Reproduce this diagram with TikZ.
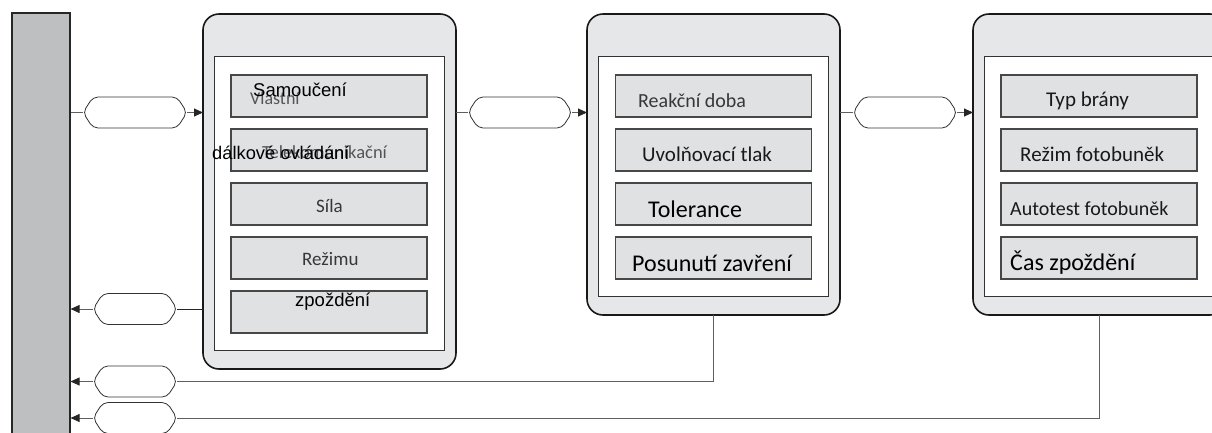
\documentclass[tikz,border=0pt]{standalone}
\usepackage{fontspec}
\setmainfont{Carlito}
\newfontfamily\arialfont{Liberation Sans}
\usetikzlibrary{arrows.meta}

\definecolor{bargray}{RGB}{190,191,193}
\definecolor{panelgray}{RGB}{230,231,232}
\definecolor{boxgray}{RGB}{224,225,227}
\definecolor{linegray}{RGB}{95,95,95}
\definecolor{textgray}{RGB}{55,55,55}
\definecolor{lightgray}{RGB}{85,85,85}

\begin{document}
\begin{tikzpicture}[x=1pt, y=-1pt,
  panel/.style={draw=black!90, line width=1.6pt, fill=panelgray, rounded corners=16pt,
    minimum width=253pt, inner sep=0pt, outer sep=0pt},
  inner/.style={draw=black!80, line width=0.9pt, fill=white, minimum width=230pt, inner sep=0pt},
  item/.style={draw=black!72, line width=1.2pt, fill=boxgray, minimum width=196pt,
    minimum height=42pt, inner sep=0pt},
  pill/.style={minimum width=104pt, minimum height=31pt, inner sep=0pt, outer sep=0pt},
  rpill/.style={pill, minimum width=84pt},
  pillline/.style={draw=black!80, line width=0.8pt, fill=white, rounded corners=5pt},
  link/.style={linegray, line width=0.9pt},
  arr/.style={-{Triangle[length=9pt,width=8pt,color=black!85]}},
  lbl/.style={anchor=base west, inner sep=0pt, text=textgray},
  sz/.style={font=\fontsize{#1}{#1}\selectfont},
]
\useasboundingbox (0,0) rectangle (1212,432);

% Bar on the left
\node[draw=black!85, line width=1.1pt, fill=bargray, minimum width=58pt, minimum height=432pt,
  inner sep=0pt] (bar) at (41,229) {};

% Panels
\node[panel, minimum height=355pt] (p1) at (329.5,191.5) {};
\node[panel, minimum height=301pt] (p2) at (713.5,164.5) {};
\node[panel, minimum height=301pt] (p3) at (1099.5,164.5) {};

\node[inner, minimum height=294pt] (in1) at (329,203) {};
\node[inner, minimum height=240pt] (in2) at (713,176) {};
\node[inner, minimum height=240pt] (in3) at (1099,176) {};

% Item boxes
\foreach \i in {1,...,5}
  \node[item] (a\i) at (329,42+54*\i) {};
\foreach \i in {1,...,4} {
  \node[item] (b\i) at (713.5,42+54*\i) {};
  \node[item] (c\i) at (1099,42+54*\i) {};
}

% Texts, panel 1
\node[lbl, sz=18, text=lightgray] (t1b) at (250,104) {Vlastní};
\node[lbl, text=black, font=\arialfont\fontsize{18.5}{18.5}\selectfont] (t1a) at (253,96) {Samoučení};
\node[lbl, sz=18.5, text=lightgray] (t2b) at (262,158) {Telekomunikační};
\node[lbl, text=black, font=\arialfont\fontsize{18.3}{18.3}\selectfont] (t2a) at (212,159) {dálkové ovládání};
\node[lbl, sz=19] (t3) at (316,212) {Síla};
\node[lbl, sz=19] (t4) at (302,265) {Režimu};
\node[lbl, text=black, font=\arialfont\fontsize{18.5}{18.5}\selectfont] (t5) at (295,306) {zpoždění};

% Texts, panel 2
\node[lbl, sz=20] (u1) at (638,107) {Reakční doba};
\node[lbl, sz=21, text=black!90] (u2) at (642,161) {Uvolňovací tlak};
\node[lbl, sz=24, text=black] (u3) at (648,217) {Tolerance};
\node[lbl, sz=24, text=black] (u4) at (632,271) {Posunutí zavření};

% Texts, panel 3
\node[lbl, sz=21, text=black!90] (v1) at (1046,106) {Typ brány};
\node[lbl, sz=21, text=black!90] (v2) at (1020,161) {Režim fotobuněk};
\node[lbl, sz=20, text=black!90] (v3) at (1010,215) {Autotest fotobuněk};
\node[lbl, sz=24, text=black] (v4) at (1010,270) {Čas zpoždění};

% Pills
\node[pill] (pa) at (135,112.5) {};
\node[pill] (pb) at (520,112.5) {};
\node[pill] (pc) at (905,112.5) {};
\node[rpill] (r1) at (135,309) {};
\node[rpill] (r2) at (135,381.5) {};
\node[rpill] (r3) at (135,418) {};
\foreach \p in {pa,pb,pc,r1,r2,r3}
  \draw[pillline] (\p.west) -- ([xshift=10pt]\p.north west) -- ([xshift=-10pt]\p.north east)
    -- (\p.east) -- ([xshift=-10pt]\p.south east) -- ([xshift=10pt]\p.south west) -- cycle;

% Forward links
\draw[link] (bar.east |- pa.west) -- (pa.west);
\draw[link, arr] (pa.east) -- (p1.west |- pa.east);
\draw[link] (p1.east |- pb.west) -- (pb.west);
\draw[link, arr] (pb.east) -- (p2.west |- pb.east);
\draw[link] (p2.east |- pc.west) -- (pc.west);
\draw[link, arr] (pc.east) -- (p3.west |- pc.east);

% Return links
\draw[link, black!85] (p1.west |- r1.east) -- (r1.east);
\draw[link, arr] (r1.west) -- (bar.east |- r1.west);
\draw[link] (p2.south) |- (r2.east);
\draw[link, arr] (r2.west) -- (bar.east |- r2.west);
\draw[link] (p3.south) |- (r3.east);
\draw[link, arr] (r3.west) -- (bar.east |- r3.west);

\end{tikzpicture}
\end{document}
